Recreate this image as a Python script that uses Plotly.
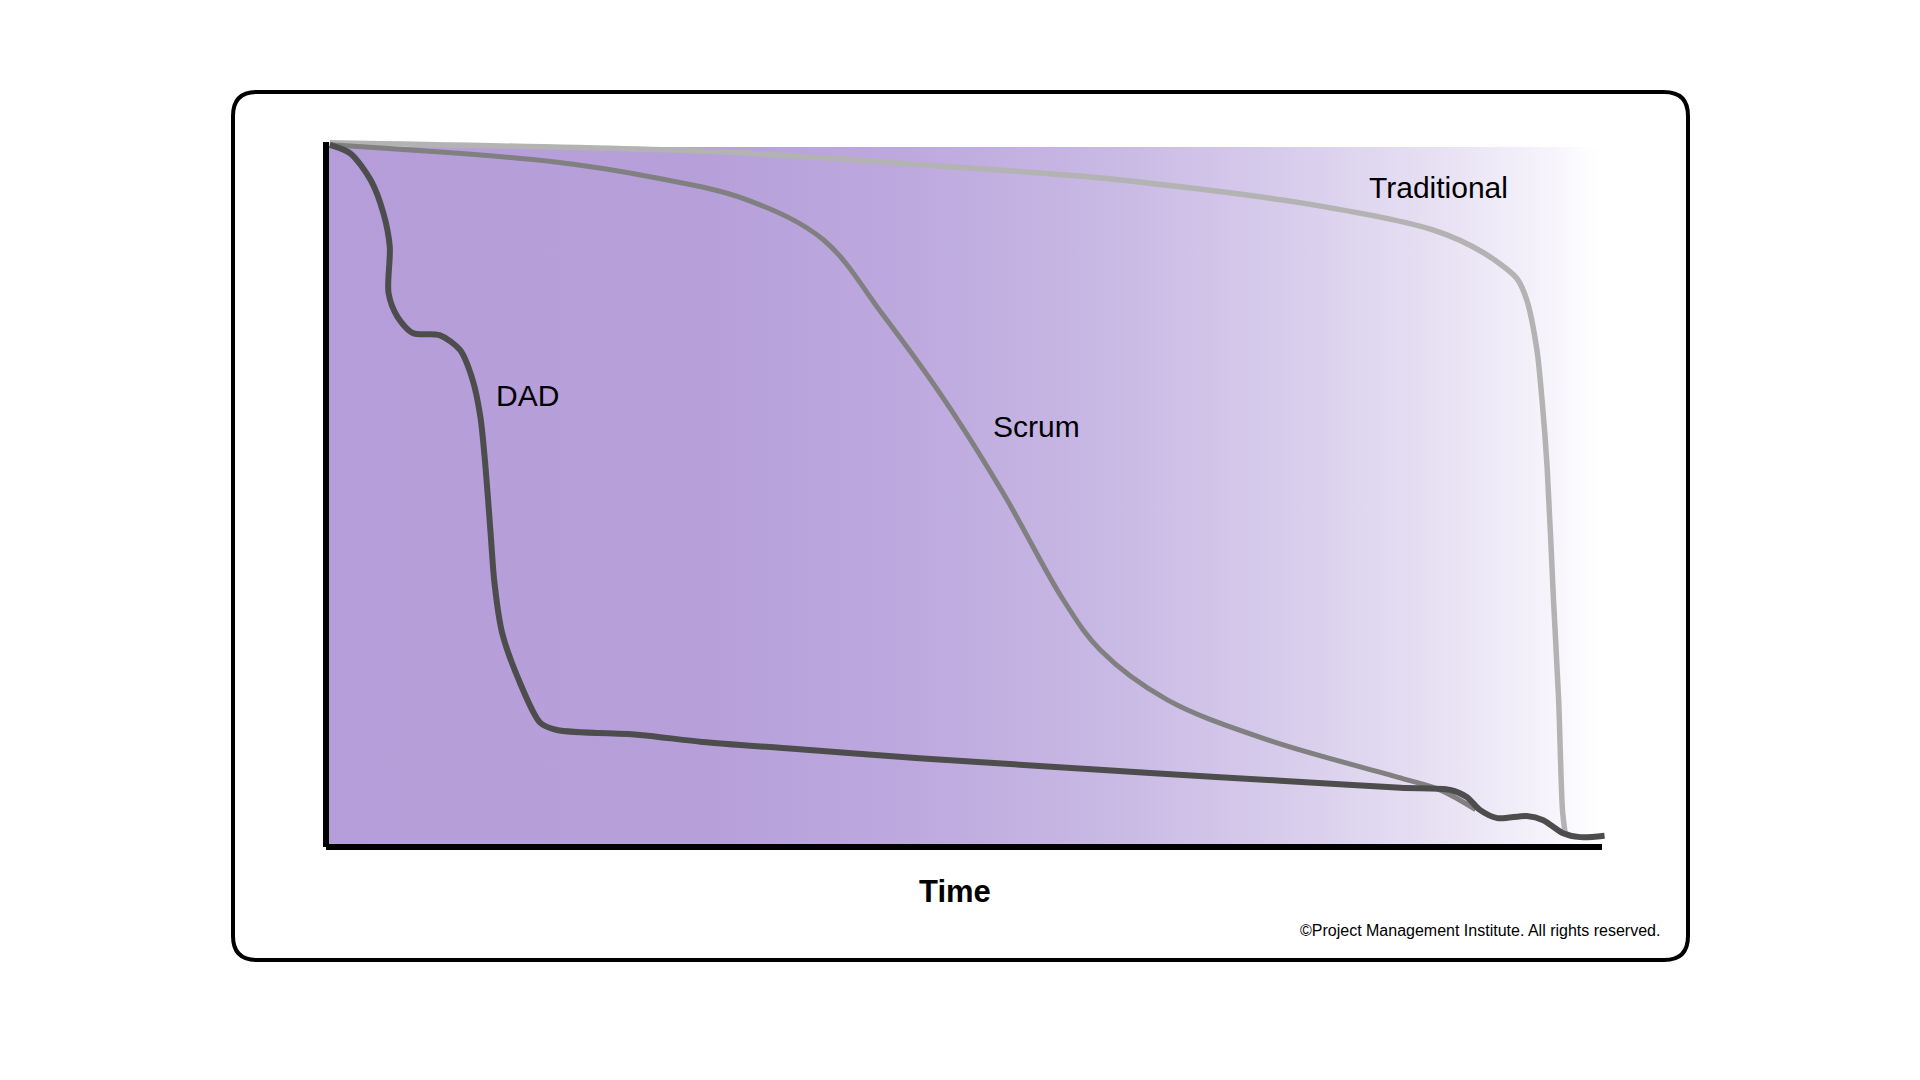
import plotly.graph_objects as go

# ---------------- data (time %, remaining work %) ----------------
dad_x = [0.3, 1.9, 3.5, 4.5, 5.0, 4.9, 5.6, 6.8, 8.9, 10.5, 11.5, 12.1, 12.5, 12.9, 13.2, 13.8,
         15.2, 16.8, 18.1, 24.6, 29.5, 36.1, 46.5, 55.9, 64.6, 74.8, 84.2, 88.1, 89.4, 90.4,
         91.8, 94.1, 95.4, 96.9, 98.3, 100.2]
dad_y = [99.6, 98.4, 94.6, 89.9, 85.1, 78.6, 75.2, 72.9, 72.6, 70.5, 66.2, 61.0, 53.9, 44.5, 37.5, 30.4,
         23.3, 17.6, 16.6, 15.9, 14.9, 14.0, 12.6, 11.5, 10.5, 9.4, 8.4, 8.1, 7.1, 5.3,
         4.1, 4.4, 3.8, 2.0, 1.4, 1.6]

scrum_x = [0.3, 17.8, 25.6, 33.0, 39.0, 43.6, 48.4, 53.1, 57.8, 60.7, 65.9, 73.8, 84.2, 87.3, 90.1]
scrum_y = [99.6, 97.2, 95.0, 91.8, 86.1, 75.6, 63.6, 50.1, 35.0, 27.9, 20.9, 15.2, 9.8, 8.1, 5.3]

trad_x = [0.3, 30.9, 47.3, 60.7, 76.3, 86.8, 90.7, 93.3, 94.1, 94.9, 95.3, 95.7, 96.2, 96.6, 96.9, 97.1]
trad_y = [99.9, 98.6, 96.7, 94.9, 91.4, 87.5, 84.3, 80.7, 77.6, 70.5, 63.4, 53.9, 35.0, 20.9, 5.3, 2.1]

labels = ["DAD", "Scrum", "Traditional"]
label_x = [15.8, 55.7, 87.2]
label_y = [64.0, 59.7, 93.5]

area_x = [0, 99.8, 99.8, 0, 0]
area_y = [0, 0, 99.3, 99.3, 0]

# ---------------- layout geometry (pixels) ----------------
W, H = 1920, 1080
ML, MR, MT, MB = 300, 280, 130, 220
PW, PH = W - ML - MR, H - MT - MB
X0PX, X100PX = 326, 1602      # pixel of time 0 / 100
Y0PX, Y100PX = 847, 142       # pixel of value 0 / 100
sx = (X100PX - X0PX) / 100.0
sy = (Y0PX - Y100PX) / 100.0
xr = [-(X0PX - ML) / sx, -(X0PX - ML) / sx + PW / sx]
yr = [(Y0PX - (H - MB)) / sy, (Y0PX - MT) / sy]


def px(x):
    return (x - ML) / PW


def py(y):
    return (H - MB - y) / PH


FONT = "Liberation Sans, Arial, Helvetica, sans-serif"

fig = go.Figure()

fig.add_trace(go.Scatter(
    x=area_x, y=area_y, mode="lines", fill="toself",
    line=dict(width=0, color="rgba(0,0,0,0)"),
    fillgradient=dict(
        type="horizontal",
        colorscale=[
            [0.0, "#b59dd9"],
            [0.30, "#b7a0da"],
            [0.45, "#bda8de"],
            [0.61, "#c8b8e4"],
            [0.76, "#d8cdec"],
            [0.88, "#e8e2f4"],
            [0.95, "#f4f1fa"],
            [1.0, "#ffffff"],
        ],
    ),
    hoverinfo="skip", showlegend=False,
))

fig.add_trace(go.Scatter(x=trad_x, y=trad_y, mode="lines", name="Traditional",
                         line=dict(color="#b3b3b3", width=5.5, shape="spline", smoothing=0.8),
                         showlegend=False))
fig.add_trace(go.Scatter(x=scrum_x, y=scrum_y, mode="lines", name="Scrum",
                         line=dict(color="#808080", width=5, shape="spline", smoothing=1.0),
                         showlegend=False))
fig.add_trace(go.Scatter(x=dad_x, y=dad_y, mode="lines", name="DAD",
                         line=dict(color="#4d4d4d", width=6, shape="spline", smoothing=0.8),
                         showlegend=False))

for t, x, y in zip(labels, label_x, label_y):
    fig.add_annotation(x=x, y=y, xref="x", yref="y", text=t, showarrow=False,
                       font=dict(family=FONT, size=30, color="#000000"),
                       xanchor="center", yanchor="middle")

fig.add_annotation(x=px(955), y=py(891), xref="paper", yref="paper", text="<b>Time</b>",
                   showarrow=False, font=dict(family=FONT, size=31, color="#000000"),
                   xanchor="center", yanchor="middle")
fig.add_annotation(x=px(1662), y=py(930), xref="paper", yref="paper",
                   text="©Project Management Institute. All rights reserved.",
                   showarrow=False, font=dict(family=FONT, size=16, color="#000000"),
                   xanchor="right", yanchor="middle")

# axes lines
fig.add_shape(type="line", xref="x", yref="y", x0=0, y0=0, x1=0, y1=100,
              line=dict(color="#000000", width=6), layer="above")
fig.add_shape(type="line", xref="x", yref="y", x0=0, y0=0, x1=100, y1=0,
              line=dict(color="#000000", width=6), layer="above")

# rounded border
L, R, T, B, r = 233, 1688, 92, 960, 24
path = (f"M {px(L + r)},{py(T)} L {px(R - r)},{py(T)} "
        f"Q {px(R)},{py(T)} {px(R)},{py(T + r)} L {px(R)},{py(B - r)} "
        f"Q {px(R)},{py(B)} {px(R - r)},{py(B)} L {px(L + r)},{py(B)} "
        f"Q {px(L)},{py(B)} {px(L)},{py(B - r)} L {px(L)},{py(T + r)} "
        f"Q {px(L)},{py(T)} {px(L + r)},{py(T)} Z")
fig.add_shape(type="path", xref="paper", yref="paper", path=path,
              line=dict(color="#000000", width=4), fillcolor="rgba(0,0,0,0)", layer="below")

fig.update_layout(
    width=W, height=H,
    margin=dict(l=ML, r=MR, t=MT, b=MB, pad=0),
    paper_bgcolor="#ffffff", plot_bgcolor="rgba(0,0,0,0)",
    xaxis=dict(range=xr, visible=False, fixedrange=True),
    yaxis=dict(range=yr, visible=False, fixedrange=True),
    showlegend=False, hovermode=False,
)

fig.write_html("out.html")
